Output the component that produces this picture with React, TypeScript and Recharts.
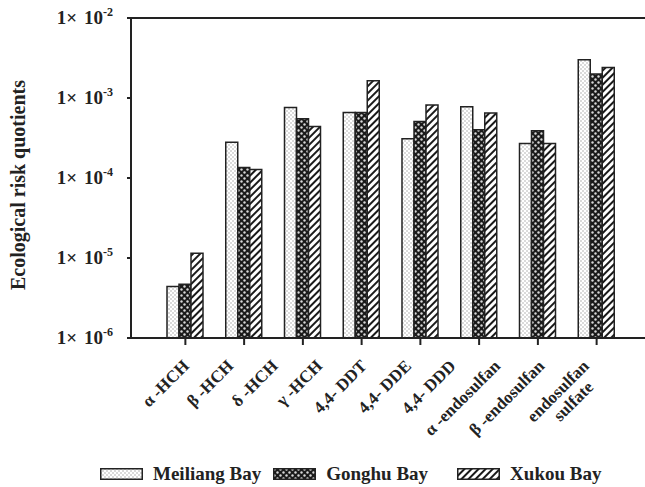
import { BarChart, Bar, XAxis, YAxis, Legend } from "recharts";

// tick labels printed under the x axis (the figure prints 10 names for 8 bar groups)
const compounds = [
  "α -HCH",
  "β -HCH",
  "δ -HCH",
  "γ -HCH",
  "4,4- DDT",
  "4,4- DDE",
  "4,4- DDD",
  "α -endosulfan",
  "β -endosulfan",
  "endosulfan sulfate",
];
const groups = ["1", "2", "3", "4", "5", "6", "7", "8"];
const meiliang = [4.4e-6, 2.8e-4, 7.6e-4, 6.6e-4, 3.1e-4, 7.8e-4, 2.7e-4, 3.0e-3];
const gonghu = [4.7e-6, 1.35e-4, 5.5e-4, 6.6e-4, 5.1e-4, 4.0e-4, 3.9e-4, 2.0e-3];
const xukou = [1.15e-5, 1.28e-4, 4.4e-4, 1.64e-3, 8.2e-4, 6.5e-4, 2.7e-4, 2.4e-3];
const yTicks = [1e-6, 1e-5, 1e-4, 1e-3, 1e-2];
const labelPositions = compounds.map((_, i) => i);
const seriesOrder = ["meiliang", "gonghu", "xukou"];

const FONT = '"Liberation Serif", "Times New Roman", serif';
const INK = "#222";

const data = groups.map((g, i) => ({
  g,
  meiliang: meiliang[i],
  gonghu: gonghu[i],
  xukou: xukou[i],
}));

const fills: Record<string, string> = {
  meiliang: "url(#patDots)",
  gonghu: "url(#patCheck)",
  xukou: "url(#patStripe)",
};

function Patterns() {
  return (
    <svg width={0} height={0} style={{ position: "absolute" }}>
      <defs>
        <pattern id="patDots" width={4} height={4} patternUnits="userSpaceOnUse">
          <rect width={4} height={4} fill="#fff" />
          <circle cx={1} cy={1} r={0.7} fill="#999" />
          <circle cx={3} cy={3} r={0.7} fill="#999" />
        </pattern>
        <pattern id="patCheck" width={6} height={6} patternUnits="userSpaceOnUse">
          <rect width={6} height={6} fill="#1a1a1a" />
          <circle cx={1.5} cy={1.5} r={1.2} fill="#d8d8d8" />
          <circle cx={4.5} cy={4.5} r={1.2} fill="#d8d8d8" />
        </pattern>
        <pattern
          id="patStripe"
          width={5}
          height={5}
          patternUnits="userSpaceOnUse"
          patternTransform="rotate(45)"
        >
          <rect width={5} height={5} fill="#fff" />
          <rect width={2} height={5} fill="#1a1a1a" />
        </pattern>
      </defs>
    </svg>
  );
}

function YTick(props: any) {
  const { x, y, payload } = props;
  const exp = Math.round(Math.log10(payload.value));
  return (
    <text
      x={x}
      y={y}
      dy={6}
      textAnchor="end"
      fontFamily={FONT}
      fontWeight="bold"
      fontSize={19}
      fill={INK}
    >
      <tspan>1×</tspan>
      <tspan dx={7}>10</tspan>
      <tspan dy={-8} fontSize={12}>
        {exp}
      </tspan>
    </text>
  );
}

function CompoundTick(props: any) {
  const { x, y, payload } = props;
  const name = compounds[payload.value] ?? "";
  const parts = name === "endosulfan sulfate" ? ["endosulfan", "sulfate"] : [name];
  const ty = y + 20;
  return (
    <text
      x={x}
      y={ty}
      textAnchor="end"
      transform={`rotate(-45 ${x} ${ty})`}
      fontFamily={FONT}
      fontWeight="bold"
      fontSize={17}
      fill={INK}
    >
      {parts.map((p, i) => (
        <tspan key={p} x={i === 0 ? x : x - 12} dy={i === 0 ? 0 : 18}>
          {p}
        </tspan>
      ))}
    </text>
  );
}

function YLabel(props: any) {
  const { viewBox } = props;
  const cx = viewBox.x + 25;
  const cy = viewBox.y + viewBox.height / 2 + 7;
  return (
    <text
      x={cx}
      y={cy}
      transform={`rotate(-90 ${cx} ${cy})`}
      textAnchor="middle"
      fontFamily={FONT}
      fontWeight="bold"
      fontSize={20}
      fill={INK}
    >
      Ecological risk quotients
    </text>
  );
}

function LegendContent(props: any) {
  const items = [...(props.payload || [])].sort(
    (a: any, b: any) => seriesOrder.indexOf(a.dataKey) - seriesOrder.indexOf(b.dataKey)
  );
  const gaps = [100, 12, 29];
  return (
    <div
      style={{ display: "flex", alignItems: "center", fontFamily: FONT, paddingTop: 6 }}
    >
      {items.map((it: any, i: number) => (
        <div
          key={it.dataKey}
          style={{ display: "flex", alignItems: "center", marginLeft: gaps[i] }}
        >
          <svg width={43} height={12}>
            <rect
              x={0.75}
              y={0.75}
              width={41.5}
              height={10.5}
              fill={fills[it.dataKey]}
              stroke={INK}
              strokeWidth={1.5}
            />
          </svg>
          <span
            style={{ marginLeft: 10, fontSize: 19, fontWeight: "bold", color: INK }}
          >
            {it.value}
          </span>
        </div>
      ))}
    </div>
  );
}

export default function App() {
  return (
    <div style={{ position: "absolute", left: 0, top: 0, background: "#fff" }}>
      <Patterns />
      <BarChart
        width={645}
        height={487}
        data={data}
        margin={{ top: 17, right: 0, left: 0, bottom: 0 }}
        barSize={12}
        barGap={0}
      >
        <XAxis
          xAxisId="top"
          orientation="top"
          dataKey="g"
          height={1}
          tick={false}
          tickLine={false}
          stroke={INK}
          strokeWidth={2}
        />
        <XAxis
          xAxisId="bars"
          dataKey="g"
          height={1}
          padding={{ left: 25, right: 19 }}
          tick={() => <g />}
          tickSize={7}
          stroke={INK}
          strokeWidth={2}
        />
        <XAxis
          xAxisId="lab"
          type="number"
          dataKey="labelSlot"
          domain={[0, 9]}
          allowDataOverflow
          ticks={labelPositions}
          interval={0}
          padding={{ left: 59, right: 55 }}
          height={118}
          axisLine={false}
          tickLine={false}
          tick={<CompoundTick />}
        />
        <YAxis
          scale="log"
          domain={[1e-6, 1e-2]}
          allowDataOverflow
          ticks={yTicks}
          interval={0}
          width={131}
          tickSize={4}
          tickMargin={14}
          stroke={INK}
          strokeWidth={2}
          tick={<YTick />}
          label={<YLabel />}
        />
        <Legend
          verticalAlign="bottom"
          height={30}
          wrapperStyle={{ left: 0, width: 645 }}
          content={<LegendContent />}
        />
        <Bar
          xAxisId="bars"
          dataKey="meiliang"
          name="Meiliang Bay"
          fill={fills.meiliang}
          stroke={INK}
          strokeWidth={1.5}
          isAnimationActive={false}
        />
        <Bar
          xAxisId="bars"
          dataKey="gonghu"
          name="Gonghu Bay"
          fill={fills.gonghu}
          stroke={INK}
          strokeWidth={1.5}
          isAnimationActive={false}
        />
        <Bar
          xAxisId="bars"
          dataKey="xukou"
          name="Xukou Bay"
          fill={fills.xukou}
          stroke={INK}
          strokeWidth={1.5}
          isAnimationActive={false}
        />
      </BarChart>
    </div>
  );
}
